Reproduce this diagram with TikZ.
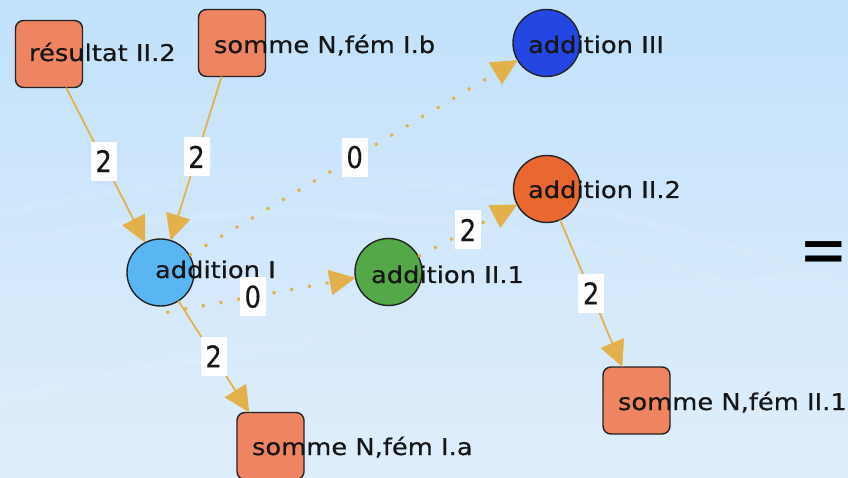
\documentclass[tikz,border=0pt]{standalone}
\usepackage{fontspec}
\usepackage{graphicx}
\setmainfont{DejaVu Sans}[FakeStretch=1.12,FakeBold=0.5]
\newfontfamily\eqfont{DejaVu Sans}
\usetikzlibrary{arrows.meta,calc}

\definecolor{bgtop}{RGB}{194,225,251}
\definecolor{bgbot}{RGB}{224,238,251}
\definecolor{salmon}{RGB}{238,132,98}
\definecolor{addI}{RGB}{90,182,242}
\definecolor{addIIa}{RGB}{84,168,72}
\definecolor{addIIb}{RGB}{232,104,48}
\definecolor{addIII}{RGB}{36,70,226}
\definecolor{link}{RGB}{227,177,76}
\definecolor{rim}{RGB}{35,35,35}
\definecolor{ink}{RGB}{22,22,22}

\newcommand{\wdigit}[1]{\scalebox{1}[1.3]{#1}}

\begin{document}
\begin{tikzpicture}[x=1pt,y=-1pt,
  every node/.style={inner sep=0pt, outer sep=0pt},
  place/.style={rectangle, draw=rim, line width=1.4pt, fill=salmon,
    rounded corners=8pt, minimum size=67pt},
  trans/.style={circle, draw=rim, line width=1.4pt, minimum size=67pt},
  nodename/.style={anchor=base west, font=\fontsize{23}{23}\selectfont, text=ink},
  arc/.style={draw=link, line width=1.8pt, -{Triangle[length=26pt,width=25pt]}},
  dotarc/.style={draw=link, line width=3pt, dash pattern=on 3pt off 15pt,
    -{Triangle[length=26pt,width=25pt]}},
  weight/.style={fill=white, minimum width=26pt, minimum height=39pt,
    font=\fontsize{23}{23}\selectfont, text=ink}
]
\useasboundingbox (0,0) rectangle (848,478);

% background
\shade[top color=bgtop, bottom color=bgbot] (0,0) rectangle (848,478);
\begin{scope}[white, line width=8pt, opacity=0.07]
  \draw (0,215) .. controls (250,150) and (560,170) .. (848,290);
  \draw (0,245) .. controls (260,185) and (580,210) .. (848,330);
  \draw (0,400) .. controls (300,330) and (600,300) .. (848,270);
\end{scope}

% places and transitions
\node[place] (rII2) at (49,54) {};
\node[place] (sIb) at (232,43) {};
\node[trans, fill=addIII] (aIII) at (546.5,43) {};
\node[trans, fill=addIIb] (aII2) at (547,189) {};
\node[trans, fill=addI] (aI) at (160.5,272.5) {};
\node[trans, fill=addIIa] (aII1) at (388.5,272) {};
\node[place] (sIa) at (270.5,446) {};
\node[place] (sII1) at (636.5,400.5) {};

% arcs
\coordinate (aIlow) at ([yshift=-7pt]aI.-80);
\draw[arc] (rII2) -- (aI);
\draw[arc] (sIb) -- (aI);
\draw[arc] (aI) -- (sIa);
\draw[arc] (aII2) -- (sII1);
\draw[dotarc] (aI) -- (aIII);
\draw[dotarc] (aIlow) -- (aII1.190);
\draw[dotarc] (aII1) -- (aII2);

% names
\node[nodename] (rII2-n) at (29,61) {résultat II.2};
\node[nodename] (sIb-n) at (214,53) {somme N,fém I.b};
\node[nodename] (aIII-n) at (528,53) {addition III};
\node[nodename] (aII2-n) at (528,198) {addition II.2};
\node[nodename] (aI-n) at (155,278) {addition I};
\node[nodename] (aII1-n) at (371,283) {addition II.1};
\node[nodename] (sIa-n) at (252,455) {somme N,fém I.a};
\node[nodename] (sII1-n) at (618,410) {somme N,fém II.1};

% arc weights
\node[weight] (w1) at ($(rII2)!0.49!(aI)$) {\wdigit{2}};
\node[weight] (w2) at ($(sIb)!0.496!(aI)$) {\wdigit{2}};
\node[weight] (w3) at ($(aI)!0.503!(aIII)$) {\wdigit{0}};
\node[weight] (w4) at ($(aIlow)!0.457!(aII1.190)$) {\wdigit{0}};
\node[weight] (w5) at ($(aI)!0.483!(sIa)$) {\wdigit{2}};
\node[weight] (w6) at ($(aII2)!0.493!(sII1)$) {\wdigit{2}};
\node[weight] (w7) at (468,230) {\wdigit{2}};

% equation sign
\node[anchor=east, font=\eqfont\fontsize{58}{58}\selectfont, text=black] (eq)
  at (848,258) {\scalebox{1}[1.25]{=}};
\end{tikzpicture}
\end{document}
